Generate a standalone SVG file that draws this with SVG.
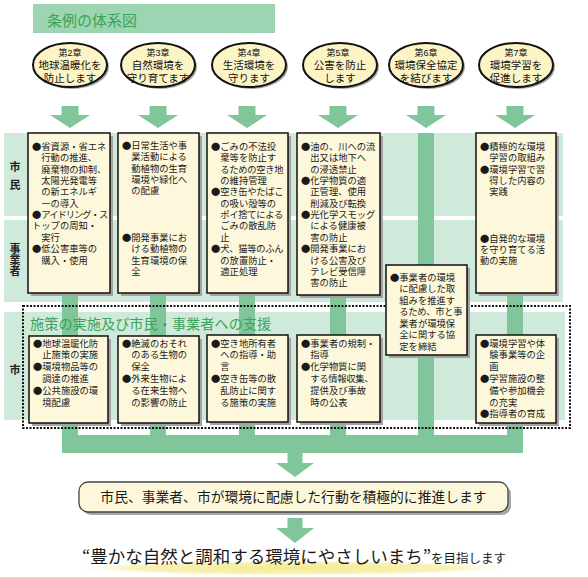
<svg xmlns="http://www.w3.org/2000/svg" width="588" height="577" viewBox="0 0 588 577">
<defs>
<style>
.band{fill:#cfe9da}
.stripe{fill:#80c69a}
.arrow{fill:#80c69a}
.box{fill:#fdf8dc;stroke:#111;stroke-width:1.5}
.sh{fill:#a3a3a3}
.ell{fill:#fdf4c6;stroke:#111;stroke-width:2}
.t{font-family:"Liberation Sans","Noto Sans CJK JP",sans-serif;font-size:9.3px;fill:#1a1a1a}
.b{font-family:"Noto Sans CJK JP",sans-serif}
.et{font-family:"Liberation Sans","Noto Sans CJK JP",sans-serif;font-size:10.5px;fill:#111;text-anchor:middle}
.ch{font-size:9px}
.lab{font-family:"Liberation Sans","Noto Sans CJK JP",sans-serif;font-size:11px;font-weight:bold;fill:#222;writing-mode:tb;glyph-orientation-vertical:0}
.head{font-family:"Noto Sans CJK JP","Noto Sans",sans-serif;fill:#3aa35c}
.dot{fill:none;stroke:#111;stroke-width:2;stroke-dasharray:2 1.5}
</style>
<path id="arr" d="M-8.5,0 h17 v9 h11.5 l-20,13 l-20,-13 h11.5 z"/>
<radialGradient id="glow" cx="0.5" cy="0.5" r="0.5">
<stop offset="0" stop-color="#f4ea8e"/>
<stop offset="0.7" stop-color="#f8f2b8"/>
<stop offset="1" stop-color="#ffffff" stop-opacity="0"/>
</radialGradient>
</defs>
<rect width="588" height="577" fill="#ffffff"/>

<g id="title">
<rect x="33" y="4" width="242" height="29" fill="#9dd5b2"/>
<text class="head" x="47" y="26" font-size="15">条例の体系図</text>
</g>

<g id="bands">
<rect class="band" x="4" y="133" width="559" height="83"/>
<rect class="band" x="4" y="220" width="559" height="82"/>
<rect class="band" x="4" y="312" width="561" height="108"/>
<text class="lab" x="14" y="161" letter-spacing="7">市民</text>
<text class="lab" x="14" y="243">事業者</text>
<text class="lab" x="14" y="364">市</text>
</g>

<g id="connectors">
<rect class="stripe" x="62" y="133" width="16" height="305"/>
<rect class="stripe" x="150" y="133" width="16" height="305"/>
<rect class="stripe" x="239" y="133" width="16" height="305"/>
<rect class="stripe" x="330" y="133" width="16" height="305"/>
<rect class="stripe" x="418" y="133" width="16" height="305"/>
<rect class="stripe" x="507" y="133" width="16" height="305"/>
<rect class="stripe" x="62" y="435" width="461" height="18"/>
<use href="#arr" class="arrow" x="70" y="106"/>
<use href="#arr" class="arrow" x="158" y="106"/>
<use href="#arr" class="arrow" x="247" y="106"/>
<use href="#arr" class="arrow" x="338" y="106"/>
<use href="#arr" class="arrow" x="426" y="106"/>
<use href="#arr" class="arrow" x="515" y="106"/>
<path class="arrow" d="M287.5,453 h15 v10 h11.5 l-19,14 l-19,-14 h11.5 z"/>
<path class="arrow" d="M287.5,518 h15 v10 h11.5 l-19,15 l-19,-15 h11.5 z"/>
</g>

<g id="ch2">
<ellipse class="sh" cx="72" cy="67" rx="37" ry="22"/>
<ellipse class="ell" cx="70" cy="65" rx="37" ry="22"/>
<text class="et"><tspan class="ch" x="70" y="56">第2章</tspan><tspan x="70" y="69">地球温暖化を</tspan><tspan x="70" y="82">防止します</tspan></text>
</g>
<g id="ch3">
<ellipse class="sh" cx="160" cy="67" rx="37" ry="22"/>
<ellipse class="ell" cx="158" cy="65" rx="37" ry="22"/>
<text class="et"><tspan class="ch" x="158" y="56">第3章</tspan><tspan x="158" y="69">自然環境を</tspan><tspan x="158" y="82">守り育てます</tspan></text>
</g>
<g id="ch4">
<ellipse class="sh" cx="251" cy="67" rx="37" ry="22"/>
<ellipse class="ell" cx="249" cy="65" rx="37" ry="22"/>
<text class="et"><tspan class="ch" x="249" y="56">第4章</tspan><tspan x="249" y="69">生活環境を</tspan><tspan x="249" y="82">守ります</tspan></text>
</g>
<g id="ch5">
<ellipse class="sh" cx="342" cy="67" rx="37" ry="22"/>
<ellipse class="ell" cx="340" cy="65" rx="37" ry="22"/>
<text class="et"><tspan class="ch" x="338" y="56">第5章</tspan><tspan x="340" y="69">公害を防止</tspan><tspan x="340" y="82">します</tspan></text>
</g>
<g id="ch6">
<ellipse class="sh" cx="428" cy="67" rx="37" ry="22"/>
<ellipse class="ell" cx="426" cy="65" rx="37" ry="22"/>
<text class="et"><tspan class="ch" x="426" y="56">第6章</tspan><tspan x="426" y="69">環境保全協定</tspan><tspan x="426" y="82">を結びます</tspan></text>
</g>
<g id="ch7">
<ellipse class="sh" cx="518" cy="67" rx="37" ry="22"/>
<ellipse class="ell" cx="516" cy="65" rx="37" ry="22"/>
<text class="et"><tspan class="ch" x="516" y="56">第7章</tspan><tspan x="516" y="69">環境学習を</tspan><tspan x="516" y="82">促進します</tspan></text>
</g>

<g id="box1">
<rect class="sh" x="31" y="136" width="82" height="160"/>
<rect class="box" x="28" y="133" width="82" height="160"/>
<text class="t"><tspan class="b" x="32" y="150">●</tspan><tspan x="41.3" y="150">省資源・省エネ</tspan><tspan x="41.3" y="161.4">行動の推進、</tspan><tspan x="41.3" y="172.7">廃棄物の抑制、</tspan><tspan x="41.3" y="184">太陽光発電等</tspan><tspan x="41.3" y="195.4">の新エネルギ</tspan><tspan x="41.3" y="206.7">ーの導入</tspan><tspan class="b" x="32" y="218">●</tspan><tspan x="41.3" y="218" letter-spacing="-1">アイドリング・ス</tspan><tspan x="32" y="229.4">トップの周知・</tspan><tspan x="41.3" y="240.8">実行</tspan><tspan class="b" x="32" y="252.1">●</tspan><tspan x="41.3" y="252.1">低公害車等の</tspan><tspan x="41.3" y="263.5">購入・使用</tspan></text>
</g>

<g id="box2">
<rect class="sh" x="121" y="136" width="81" height="160"/>
<rect class="box" x="118" y="133" width="81" height="160"/>
<text class="t"><tspan class="b" x="122" y="149">●</tspan><tspan x="131.3" y="149">日常生活や事</tspan><tspan x="131.3" y="160.4">業活動による</tspan><tspan x="131.3" y="171.7">動植物の生育</tspan><tspan x="131.3" y="183">環境や緑化へ</tspan><tspan x="131.3" y="194.4">の配慮</tspan><tspan class="b" x="122" y="240.8">●</tspan><tspan x="131.3" y="240.8">開発事業にお</tspan><tspan x="131.3" y="252.1">ける動植物の</tspan><tspan x="131.3" y="263.5">生育環境の保</tspan><tspan x="131.3" y="274.8">全</tspan></text>
</g>

<g id="box3">
<rect class="sh" x="210" y="136" width="81" height="160"/>
<rect class="box" x="207" y="133" width="81" height="160"/>
<text class="t"><tspan class="b" x="211" y="150">●</tspan><tspan x="220.3" y="150">ごみの不法投</tspan><tspan x="220.3" y="161.4">棄等を防止す</tspan><tspan x="220.3" y="172.7" letter-spacing="-0.3">るための空き地</tspan><tspan x="220.3" y="184">の維持管理</tspan><tspan class="b" x="211" y="195.4">●</tspan><tspan x="220.3" y="195.4" letter-spacing="-0.3">空き缶やたばこ</tspan><tspan x="220.3" y="206.7">の吸い殻等の</tspan><tspan x="220.3" y="218" letter-spacing="-0.3">ポイ捨てによる</tspan><tspan x="220.3" y="229.4">ごみの散乱防</tspan><tspan x="220.3" y="240.8">止</tspan><tspan class="b" x="211" y="252.1">●</tspan><tspan x="220.3" y="252.1" letter-spacing="-0.3">犬、猫等のふん</tspan><tspan x="220.3" y="263.5">の放置防止・</tspan><tspan x="220.3" y="274.8">適正処理</tspan></text>
</g>

<g id="box4">
<rect class="sh" x="300" y="136" width="83" height="162"/>
<rect class="box" x="297" y="133" width="83" height="162"/>
<text class="t"><tspan class="b" x="301" y="150">●</tspan><tspan x="310.3" y="150">油の、川への流</tspan><tspan x="310.3" y="161.4">出又は地下へ</tspan><tspan x="310.3" y="172.7">の浸透禁止</tspan><tspan class="b" x="301" y="184">●</tspan><tspan x="310.3" y="184">化学物質の適</tspan><tspan x="310.3" y="195.4">正管理、使用</tspan><tspan x="310.3" y="206.7">削減及び転換</tspan><tspan class="b" x="301" y="218">●</tspan><tspan x="310.3" y="218">光化学スモッグ</tspan><tspan x="310.3" y="229.4">による健康被</tspan><tspan x="310.3" y="240.8">害の防止</tspan><tspan class="b" x="301" y="252.1">●</tspan><tspan x="310.3" y="252.1">開発事業にお</tspan><tspan x="310.3" y="263.5">ける公害及び</tspan><tspan x="310.3" y="274.8">テレビ受信障</tspan><tspan x="310.3" y="286.2">害の防止</tspan></text>
</g>

<g id="box6">
<rect class="sh" x="479" y="136" width="80" height="160"/>
<rect class="box" x="476" y="133" width="80" height="160"/>
<text class="t"><tspan class="b" x="480" y="150">●</tspan><tspan x="489.3" y="150">積極的な環境</tspan><tspan x="489.3" y="161.4">学習の取組み</tspan><tspan class="b" x="480" y="172.7">●</tspan><tspan x="489.3" y="172.7">環境学習で習</tspan><tspan x="489.3" y="184">得した内容の</tspan><tspan x="489.3" y="195.4">実践</tspan><tspan class="b" x="480" y="241.5">●</tspan><tspan x="489.3" y="241.5">自発的な環境</tspan><tspan x="480" y="252.8">を守り育てる活</tspan><tspan x="480" y="264.2">動の実施</tspan></text>
</g>

<g id="shisaku">
<rect class="dot" x="23" y="306" width="547" height="122"/>
<text class="head" x="30" y="329" font-size="14.2">施策の実施及び市民・事業者への支援</text>
</g>

<g id="box5">
<rect class="sh" x="389" y="268" width="81" height="90"/>
<rect class="box" x="386" y="265" width="81" height="90"/>
<text class="t"><tspan class="b" x="390" y="280.5">●</tspan><tspan x="399.3" y="280.5">事業者の環境</tspan><tspan x="399.3" y="292">に配慮した取</tspan><tspan x="399.3" y="303.5">組みを推進す</tspan><tspan x="399.3" y="315" letter-spacing="-0.3">るため、市と事</tspan><tspan x="399.3" y="326.5">業者が環境保</tspan><tspan x="399.3" y="338">全に関する協</tspan><tspan x="399.3" y="349.5">定を締結</tspan></text>
</g>

<g id="city1">
<rect class="sh" x="32" y="339" width="79" height="87"/>
<rect class="box" x="29" y="336" width="79" height="87"/>
<text class="t"><tspan class="b" x="33" y="346.5">●</tspan><tspan x="42.3" y="346.5">地球温暖化防</tspan><tspan x="42.3" y="358.3">止施策の実施</tspan><tspan class="b" x="33" y="370.1">●</tspan><tspan x="42.3" y="370.1">環境物品等の</tspan><tspan x="42.3" y="381.9">調達の推進</tspan><tspan class="b" x="33" y="393.7">●</tspan><tspan x="42.3" y="393.7">公共施設の環</tspan><tspan x="42.3" y="405.5">境配慮</tspan></text>
</g>
<g id="city2">
<rect class="sh" x="121" y="339" width="81" height="87"/>
<rect class="box" x="118" y="336" width="81" height="87"/>
<text class="t"><tspan class="b" x="122" y="346.5">●</tspan><tspan x="131.3" y="346.5">絶滅のおそれ</tspan><tspan x="131.3" y="358.3">のある生物の</tspan><tspan x="131.3" y="370.1">保全</tspan><tspan class="b" x="122" y="381.9">●</tspan><tspan x="131.3" y="381.9">外来生物によ</tspan><tspan x="131.3" y="393.7">る在来生物へ</tspan><tspan x="131.3" y="405.5">の影響の防止</tspan></text>
</g>
<g id="city3">
<rect class="sh" x="210" y="338" width="81" height="87"/>
<rect class="box" x="207" y="335" width="81" height="87"/>
<text class="t"><tspan class="b" x="211" y="346.5">●</tspan><tspan x="220.3" y="346.5">空き地所有者</tspan><tspan x="220.3" y="358.3">への指導・助</tspan><tspan x="220.3" y="370.1">言</tspan><tspan class="b" x="211" y="381.9">●</tspan><tspan x="220.3" y="381.9">空き缶等の散</tspan><tspan x="220.3" y="393.7">乱防止に関す</tspan><tspan x="220.3" y="405.5">る施策の実施</tspan></text>
</g>
<g id="city4">
<rect class="sh" x="300" y="338" width="83" height="87"/>
<rect class="box" x="297" y="335" width="83" height="87"/>
<text class="t"><tspan class="b" x="301" y="346.5">●</tspan><tspan x="310.3" y="346.5">事業者の規制・</tspan><tspan x="310.3" y="358.3">指導</tspan><tspan class="b" x="301" y="370.1">●</tspan><tspan x="310.3" y="370.1">化学物質に関</tspan><tspan x="310.3" y="381.9" letter-spacing="-0.3">する情報収集、</tspan><tspan x="310.3" y="393.7">提供及び事故</tspan><tspan x="310.3" y="405.5">時の公表</tspan></text>
</g>
<g id="city6">
<rect class="sh" x="479" y="338" width="80" height="88"/>
<rect class="box" x="476" y="335" width="80" height="88"/>
<text class="t"><tspan class="b" x="480" y="346.5">●</tspan><tspan x="489.3" y="346.5">環境学習や体</tspan><tspan x="489.3" y="358.3">験事業等の企</tspan><tspan x="489.3" y="370.1">画</tspan><tspan class="b" x="480" y="381.9">●</tspan><tspan x="489.3" y="381.9">学習施設の整</tspan><tspan x="489.3" y="393.7">備や参加機会</tspan><tspan x="489.3" y="405.5">の充実</tspan><tspan class="b" x="480" y="417.3">●</tspan><tspan x="489.3" y="417.3">指導者の育成</tspan></text>
</g>

<g id="result">
<rect x="82" y="485" width="429" height="30" rx="9" fill="#a8a8a8"/>
<rect x="79" y="482" width="429" height="30" rx="9" fill="#fdf8dc" stroke="#444" stroke-width="1.3"/>
<text x="293.5" y="502" font-family="'Noto Sans CJK JP','Noto Sans',sans-serif" font-size="13.8" fill="#1a1a1a" text-anchor="middle">市民、事業者、市が環境に配慮した行動を積極的に推進します</text>
</g>

<g id="goal">
<ellipse cx="293" cy="568" rx="230" ry="8" fill="url(#glow)"/>
<text x="82" y="563" font-family="'Noto Sans CJK JP','Noto Sans',sans-serif" fill="#1a1a1a"><tspan font-size="17.5">“豊かな自然と調和する環境にやさしいまち”</tspan><tspan font-size="12.5">を目指します</tspan></text>
</g>
</svg>
